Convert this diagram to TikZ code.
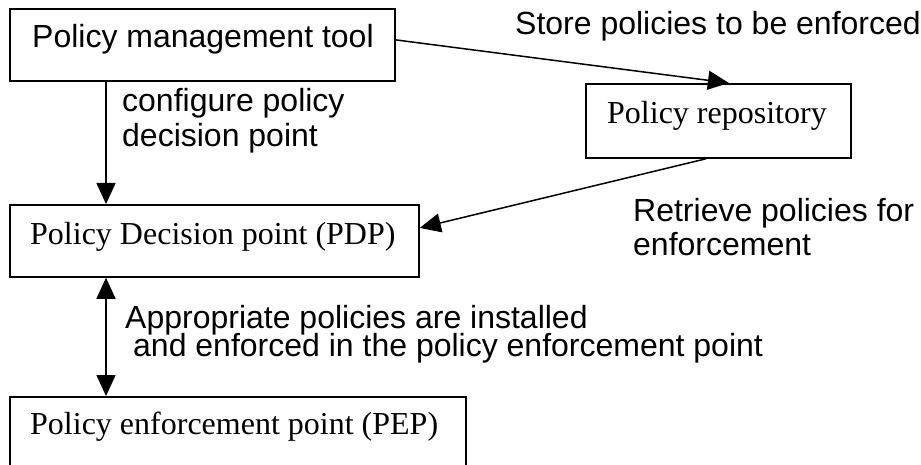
\documentclass[tikz,border=0pt]{standalone}
\usepackage{fontspec}
\newfontfamily\sansf{Liberation Sans}
\newfontfamily\seriff{Liberation Serif}
\usetikzlibrary{arrows.meta,calc}

\tikzset{
  box/.style={draw, line width=1.8pt, rectangle, inner sep=0pt, anchor=north west},
  conn/.style={line width=1.5pt, -{Triangle[length=21pt, width=19pt]}},
  biconn/.style={line width=1.5pt, {Triangle[length=21pt, width=19pt]}-{Triangle[length=21pt, width=19pt]}},
  sanslabel/.style={anchor=base west, inner sep=0pt, font=\sansf\fontsize{32}{34}\selectfont},
  seriflabel/.style={anchor=base west, inner sep=0pt, font=\seriff\fontsize{32}{34}\selectfont},
}

\begin{document}
\begin{tikzpicture}[x=1pt, y=-1pt]
  \clip (0,0) rectangle (921,465);
  \fill[white] (0,0) rectangle (921,465);

  % boxes
  \node[box, minimum width=385pt, minimum height=72pt] (tool) at (9,8) {};
  \node[box, minimum width=265pt, minimum height=74pt] (repo) at (585,83) {};
  \node[box, minimum width=409pt, minimum height=72pt] (pdp) at (9,204) {};
  \node[box, minimum width=456pt, minimum height=120pt] (pep) at (9,396) {};

  % box texts
  \node[sanslabel] (tooltxt) at (32,48) {Policy management tool};
  \node[seriflabel] (repotxt) at (607,124) {Policy repository};
  \node[seriflabel] (pdptxt) at (30,244) {Policy Decision point (PDP)};
  \node[seriflabel] (peptxt) at (30,434) {Policy enforcement point (PEP)};

  % connector labels
  \node[sanslabel] (store) at (515,35) {Store policies to be enforced};
  \node[sanslabel] (cfg1) at (122,112) {configure policy};
  \node[sanslabel] (cfg2) at (122,147) {decision point};
  \node[sanslabel] (ret1) at (633,222) {Retrieve policies for};
  \node[sanslabel] (ret2) at (633,255) {enforcement};
  \node[sanslabel] (inst1) at (125,328) {Appropriate policies are installed};
  \node[sanslabel] (inst2) at (133,356) {and enforced in the policy enforcement point};

  % connectors
  \draw[conn] ([yshift=5pt]tool.east) -- ([xshift=10.5pt]repo.north);
  \draw[conn] ([xshift=97pt]tool.south west) -- ([xshift=97pt]pdp.north west);
  \draw[conn] ([xshift=-12.5pt]repo.south) -- ([yshift=13pt]pdp.east);
  \draw[biconn] ([xshift=97pt]pdp.south west) -- ([xshift=97pt]pep.north west);
\end{tikzpicture}
\end{document}
